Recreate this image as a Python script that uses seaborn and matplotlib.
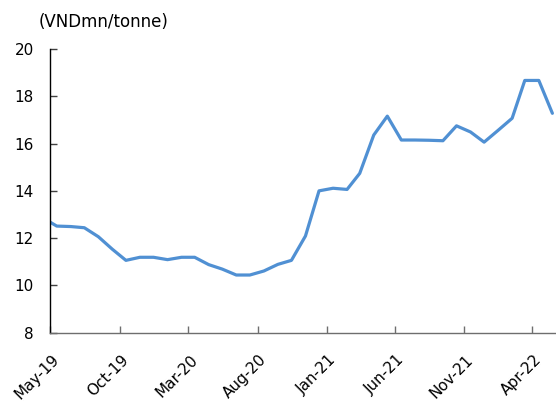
import matplotlib
matplotlib.use("Agg")
import matplotlib.pyplot as plt
import matplotlib.transforms as mtransforms
import seaborn as sns
import pandas as pd

# Monthly observations (mid-month), Apr-19 .. May-22
month_starts = pd.date_range("2019-04-01", "2022-05-01", freq="MS")
dates = month_starts + pd.Timedelta(days=14)
values = [12.85, 12.51, 12.49, 12.44, 12.06, 11.53, 11.06, 11.19, 11.19, 11.09,
          11.19, 11.19, 10.88, 10.69, 10.44, 10.44, 10.61, 10.89, 11.06, 12.09,
          14.00, 14.11, 14.06, 14.74, 16.36, 17.16, 16.15, 16.15, 16.14, 16.12,
          16.75, 16.49, 16.06, 16.56, 17.07, 18.67, 18.67, 17.28]

tick_dates = pd.to_datetime(["2019-05-01", "2019-10-01", "2020-03-01", "2020-08-01",
                             "2021-01-01", "2021-06-01", "2021-11-01", "2022-04-01"])
tick_labels = ["May-19", "Oct-19", "Mar-20", "Aug-20", "Jan-21", "Jun-21", "Nov-21", "Apr-22"]
y_ticks = [8, 10, 12, 14, 16, 18, 20]
unit_label = "(VNDmn/tonne)"

sns.set_theme(style="white")
plt.rcParams["font.family"] = ["DejaVu Sans"]

fig = plt.figure(figsize=(5.56, 4.03), dpi=100)
ax = fig.add_axes([50.4 / 556, 1 - 332.7 / 403, 1 - 50.4 / 556, (332.7 - 49) / 403])

df = pd.DataFrame({"date": dates, "value": values})
sns.lineplot(data=df, x="date", y="value", ax=ax, color="#5090D3", linewidth=2.3)

ax.set_xlim(pd.Timestamp("2019-05-01"), pd.Timestamp("2022-05-23"))
ax.set_ylim(8, 20)
ax.set_yticks(y_ticks)
ax.set_yticklabels([str(v) for v in y_ticks])
ax.set_xticks(tick_dates)
ax.set_xticklabels(tick_labels, rotation=45, ha="right", va="top", rotation_mode="anchor")
ax.set_xlabel("")
ax.set_ylabel("")

for s in ["top", "right"]:
    ax.spines[s].set_visible(False)
ax.spines["left"].set_color("#000000")
ax.spines["left"].set_linewidth(1.0)
ax.spines["bottom"].set_color("#6e6e6e")
ax.spines["bottom"].set_linewidth(1.0)

ax.tick_params(axis="y", direction="in", length=5, width=1, color="#404040",
               labelsize=11, pad=12, labelcolor="#000000", left=True)
ax.tick_params(axis="x", direction="in", length=5, width=1, color="#6e6e6e",
               labelsize=11, pad=6, labelcolor="#000000", bottom=True)
ax.grid(False)

# shift rotated date labels a little right and down (after tick_params)
offset = mtransforms.ScaledTranslation(1.5 / 100, -11 / 100, fig.dpi_scale_trans)
for lbl in ax.xaxis.get_majorticklabels():
    lbl.set_transform(lbl.get_transform() + offset)

fig.text(39 / 556, 1 - 22 / 403, unit_label, ha="left", va="center", fontsize=12, color="#000000")

fig.savefig("out.png", dpi=100)
